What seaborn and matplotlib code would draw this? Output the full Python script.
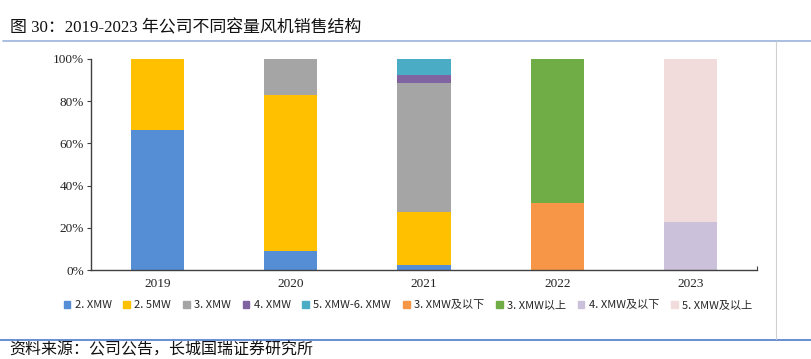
import pandas as pd
import matplotlib.pyplot as plt
import matplotlib.patches as mpatches
import matplotlib.lines as mlines
import seaborn as sns

years = ["2019", "2020", "2021", "2022", "2023"]
types = ["2. XMW", "2. 5MW", "3. XMW", "4. XMW", "5. XMW-6. XMW",
         "3. XMW及以下", "3. XMW以上", "4. XMW及以下", "5. XMW及以上"]
colors = ["#558ED5", "#FFC000", "#A5A5A5", "#8064A2", "#4BACC6",
          "#F79646", "#70AD47", "#CCC1DA", "#F2DCDB"]

# share of each capacity type per year (stacked bottom -> top in the order of `types`)
share_2mw = [0.664, 0.090, 0.024, 0, 0]
share_25mw = [0.336, 0.740, 0.252, 0, 0]
share_3mw = [0, 0.170, 0.612, 0, 0]
share_4mw = [0, 0, 0.035, 0, 0]
share_5_6mw = [0, 0, 0.077, 0, 0]
share_3mw_below = [0, 0, 0, 0.318, 0]
share_3mw_above = [0, 0, 0, 0.682, 0]
share_4mw_below = [0, 0, 0, 0, 0.226]
share_5mw_above = [0, 0, 0, 0, 0.774]

shares = [share_2mw, share_25mw, share_3mw, share_4mw, share_5_6mw,
          share_3mw_below, share_3mw_above, share_4mw_below, share_5mw_above]

df = pd.DataFrame({t: s for t, s in zip(types, shares)}, index=years)
cum = df.cumsum(axis=1)

sns.set_theme(style="white")
plt.rcParams["font.family"] = ["Liberation Serif", "Noto Sans CJK SC"]

fig = plt.figure(figsize=(8.11, 3.59), dpi=100)
ax = fig.add_axes([0.1122, 0.2479, 0.8212, 0.5878])

# draw cumulative bars from the top down so lower segments cover upper ones
for t, c in reversed(list(zip(types, colors))):
    sns.barplot(x=years, y=cum[t].values, color=c, width=0.4,
                saturation=1, ax=ax, linewidth=0)

ax.set_xlim(-0.5, 4.5)
ax.set_ylim(0, 1)
ax.set_yticks([0, 0.2, 0.4, 0.6, 0.8, 1.0])
ax.set_yticklabels(["0%", "20%", "40%", "60%", "80%", "100%"])
ax.tick_params(axis="y", direction="out", length=3, width=0.8, color="#404040",
               labelsize=9.5, pad=2, left=True)
ax.tick_params(axis="x", direction="in", length=3, width=0.8, color="#404040",
               labelsize=9.5, pad=6, bottom=True)
ax.set_xticks(range(5))
ax.set_xticks([4.5], minor=True)
ax.tick_params(axis="x", which="minor", direction="in", length=3, width=0.8,
               color="#404040", bottom=True)
for lab in ax.get_xticklabels() + ax.get_yticklabels():
    lab.set_color("#222222")
ax.set_xlabel("")
ax.set_ylabel("")
for side in ["top", "right"]:
    ax.spines[side].set_visible(False)
for side in ["left", "bottom"]:
    ax.spines[side].set_color("#404040")
    ax.spines[side].set_linewidth(1.0)

handles = [mpatches.Patch(color=c, label=t) for t, c in zip(types, colors)]
fig.legend(handles=handles, loc="center", bbox_to_anchor=(0.503, 0.150),
           ncol=9, frameon=False, handlelength=0.6,
           handleheight=0.6, handletextpad=0.4, columnspacing=1.05,
           prop={"family": ["Liberation Sans Narrow", "Noto Sans CJK SC"], "size": 8})

fig.text(0.012, 0.92, "图 30：2019-2023 年公司不同容量风机销售结构",
         fontsize=12.2, color="#111111", va="center")
fig.text(0.012, 0.024, "资料来源：公司公告，长城国瑞证券研究所",
         fontsize=11.5, color="#111111", va="center",
         family=["Noto Sans CJK SC", "DejaVu Sans"])

fig.add_artist(mlines.Line2D([0.004, 1.0], [0.887, 0.887], color="#9DB3DB", lw=1.2))
fig.add_artist(mlines.Line2D([0.0, 1.0], [0.054, 0.054], color="#4F7CC9", lw=1.2))
fig.add_artist(mlines.Line2D([0.957, 0.957], [0.056, 0.885], color="#D0D0D0", lw=0.8))

fig.savefig("out.png", dpi=100)
